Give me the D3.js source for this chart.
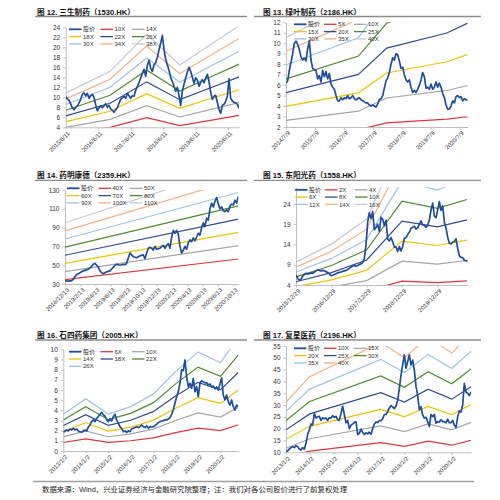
<!DOCTYPE html>
<html><head><meta charset="utf-8">
<script src="https://cdn.jsdelivr.net/npm/d3@7"></script>
<style>
body{margin:0;background:#fff}
svg{display:block}
text{font-family:"Liberation Sans","Noto Sans CJK SC",sans-serif;fill:#333}
</style>
</head><body>
<svg id="c" width="500" height="500"></svg>
<script>
// ---------- Panel 1: 三生制药 ----------
const p1Title = "图 12. 三生制药（1530.HK）";
const p1Legend = ["股价","10X","14X","18X","22X","26X","30X","34X","38X"];
const p1Multiples = [10,14,18,22,26,30,34,38];
const p1EpsDates = ["2015-06-11","2016-10-23","2017-12-08","2018-12-16","2019-12-27","2020-10-15"];
const p1Eps = [0.285,0.40,0.595,0.433,0.55,0.64];
const p1PriceStart = "2015-06-11";
const p1StepDays = 18.75;
const p1Price = [10.1,9.7,9.4,8.7,7.9,7.5,7.9,8.3,8.9,9.6,
10.6,10.9,10.3,10.8,9.8,10.3,10.6,10.0,8.5,7.3,
7.9,8.3,7.9,8.3,8.7,8.0,8.4,7.7,7.4,7.0,
7.5,7.9,8.8,9.6,9.9,10.2,9.8,10.8,10.3,9.8,
10.3,10.2,11.4,12.2,12.9,13.9,14.8,15.6,14.2,16.4,
17.4,15.8,15.2,16.5,16.9,18.0,19.5,20.8,22.4,19.6,
17.6,16.5,15.4,14.0,13.2,12.2,11.2,12.0,10.4,8.4,
11.2,12.6,13.9,15.0,16.0,15.2,14.0,12.8,13.9,13.4,
12.2,13.0,13.5,12.9,13.8,14.6,13.2,11.0,9.6,10.2,
10.4,9.0,7.6,6.8,8.4,8.6,9.2,10.2,13.7,9.8,
9.3,9.0,8.9,8.6,7.8];
const p1YDomain = [4,24];
const p1YTicks = [4,6,8,10,12,14,16,18,20,22,24];
const p1XTicks = ["2015-06-11","2016-06-11","2017-06-11","2018-06-11","2019-06-11","2020-06-11"];
const p1XTickLabels = ["2015/6/11","2016/6/11","2017/6/11","2018/6/11","2019/6/11","2020/6/11"];

// ---------- Panel 2: 绿叶制药 ----------
const p2Title = "图 13. 绿叶制药（2186.HK）";
const p2Legend = ["股价","5X","10X","15X","20X","25X","30X","35X","40X"];
const p2Multiples = [5,10,15,20,25,30,35,40];
const p2EpsDates = ["2014-07-09","2017-01-08","2018-01-01","2020-01-30","2020-10-20"];
const p2Eps = [0.264,0.351,0.477,0.549,0.596];
const p2PriceStart = "2014-07-09";
const p2StepDays = 21.05;
const p2Price = [6.2,6.4,7.4,8.2,9.0,10.0,10.2,9.9,9.4,8.7,
8.4,8.6,8.3,9.5,10.2,8.4,7.6,7.5,7.4,6.6,
6.9,6.3,7.4,6.8,7.3,6.6,7.1,6.1,5.8,5.6,
5.0,4.5,4.5,4.8,4.6,4.8,4.7,5.0,4.7,4.8,
5.0,4.7,4.6,4.7,4.8,4.6,4.5,4.4,4.3,4.3,
4.1,4.0,4.1,4.0,3.9,4.2,4.6,4.7,5.0,5.7,
6.4,6.7,7.2,8.0,8.6,8.4,9.0,8.9,8.3,7.6,
7.7,7.0,6.5,6.3,6.5,5.8,5.3,5.5,5.3,5.6,
6.0,6.5,7.2,6.8,5.7,5.8,5.6,6.1,5.6,5.8,
6.3,5.8,6.2,5.8,5.2,4.8,4.1,3.7,3.7,4.0,
4.5,4.3,4.9,5.0,4.8,4.9,4.5,4.7,4.6,4.6];
const p2YDomain = [2,12];
const p2YTicks = [2,3,4,5,6,7,8,9,10,11,12];
const p2XTicks = ["2014-07-09","2015-07-09","2016-07-09","2017-07-09","2018-07-09","2019-07-09","2020-07-09"];
const p2XTickLabels = ["2014/7/9","2015/7/9","2016/7/9","2017/7/9","2018/7/9","2019/7/9","2020/7/9"];

// ---------- Panel 3: 药明康德 ----------
const p3Title = "图 14. 药明康德（2359.HK）";
const p3Legend = ["股价","40X","50X","60X","70X","80X","90X","100X","110X"];
const p3Multiples = [40,50,60,70,80,90,100,110];
const p3EpsDates = ["2018-12-13","2020-11-02"];
const p3Eps = [0.865,1.415];
const p3PriceStart = "2018-12-13";
const p3StepDays = 6.63;
const p3Price = [33.5,33.2,33.0,33.3,33.6,35.0,38.0,40.0,41.0,42.0,
43.0,44.0,44.5,45.0,46.0,47.0,49.0,51.0,52.0,50.0,
48.0,44.0,42.0,41.0,42.0,43.0,43.5,44.0,46.0,48.0,
50.0,51.0,50.5,50.0,50.5,51.0,50.5,52.0,58.0,63.0,
61.0,59.0,58.5,58.0,59.0,60.0,60.5,61.0,57.0,63.0,
68.0,69.0,68.0,66.0,70.0,67.0,67.5,68.0,70.0,71.0,
68.0,71.0,73.0,68.0,80.0,87.0,84.0,87.0,83.0,70.0,
63.0,66.0,70.0,67.0,74.0,77.0,75.0,79.0,76.0,80.0,
84.0,82.0,90.0,95.0,91.0,100.0,98.0,110.0,116.0,112.0,
118.0,122.0,115.0,110.0,112.0,108.0,107.0,109.0,107.0,113.0,
115.0,114.0,119.0,116.0,123.0];
const p3YDomain = [30,130];
const p3YTicks = [30,50,70,90,110,130];
const p3XTicks = ["2018-12-13","2019-02-13","2019-04-13","2019-06-13","2019-08-13","2019-10-13","2019-12-13","2020-02-13","2020-04-13","2020-06-13","2020-08-13","2020-10-13"];
const p3XTickLabels = ["2018/12/13","2019/2/13","2019/4/13","2019/6/13","2019/8/13","2019/10/13","2019/12/13","2020/2/13","2020/4/13","2020/6/13","2020/8/13","2020/10/13"];

// ---------- Panel 4: 东阳光药 ----------
const p4Title = "图 15. 东阳光药（1558.HK）";
const p4Legend = ["股价","2X","4X","6X","8X","10X","12X","14X","16X"];
const p4Multiples = [2,4,6,8,10,12,14,16];
const p4EpsDates = ["2015-12-29","2016-12-29","2017-12-29","2018-12-29","2019-12-29","2020-10-30"];
const p4Eps = [0.60,0.88,1.27,2.47,2.29,2.51];
const p4PriceStart = "2015-12-29";
const p4StepDays = 17.23;
const p4Price = [6.5,5.6,5.2,5.4,6.2,6.6,6.9,6.7,6.8,7.0,
6.9,7.2,7.5,7.7,7.6,7.5,7.6,7.5,7.3,7.1,
6.8,6.3,6.4,6.6,6.8,7.0,7.1,7.2,7.4,7.5,
7.6,7.8,8.1,8.4,8.7,8.8,8.6,8.8,9.1,9.2,
9.6,10.5,13.9,19.5,21.8,20.4,22.1,17.6,18.2,19.0,
17.2,20.7,20.2,18.6,20.0,15.3,14.9,15.7,14.7,13.3,
13.4,12.3,13.5,12.4,13.5,15.5,15.7,16.5,17.0,18.0,
18.2,18.5,17.8,18.1,19.0,19.8,18.8,18.7,18.2,18.8,
20.0,22.5,24.2,21.0,20.6,22.5,24.6,22.4,23.5,19.5,
18.0,15.8,14.3,14.1,14.6,14.7,15.4,13.0,11.2,10.8,
10.7,10.1,10.0,9.9];
const p4YDomain = [4,28.1];
const p4YTicks = [4,9,14,19,24];
const p4XTicks = ["2015-12-29","2016-12-29","2017-12-29","2018-12-29","2019-12-29"];
const p4XTickLabels = ["2015/12/29","2016/12/29","2017/12/29","2018/12/29","2019/12/29"];

// ---------- Panel 5: 石四药集团 ----------
const p5Title = "图 16. 石四药集团（2005.HK）";
const p5Legend = ["股价","6X","10X","14X","18X","22X","26X"];
const p5Multiples = [6,10,14,18,22,26];
const p5EpsDates = ["2013-01-02","2014-01-02","2015-01-02","2016-01-02","2017-01-02","2018-01-02","2019-01-02","2020-01-02","2020-10-20"];
const p5Eps = [0.139,0.198,0.14,0.168,0.215,0.30,0.375,0.334,0.43];
const p5PriceStart = "2013-01-02";
const p5StepDays = 27.1;
const p5Price = [1.84,1.97,2.07,1.97,2.16,2.07,2.23,2.07,2.16,1.97,
1.9,1.84,1.97,2.07,1.95,2.35,2.56,2.89,3.05,2.89,
3.21,3.38,3.61,3.8,3.55,3.45,3.05,2.89,3.15,2.95,
3.38,3.61,3.05,2.72,2.39,2.23,1.9,1.97,1.84,1.97,
1.9,2.16,2.23,2.3,2.39,2.3,2.39,2.56,2.39,2.3,
2.46,2.23,2.39,2.36,2.39,2.49,2.62,2.79,2.89,2.95,
2.98,3.08,3.05,3.15,3.28,3.61,4.03,4.69,5.34,5.84,
6.66,8.0,7.9,8.95,7.3,6.3,6.66,6.16,7.15,5.84,
6.33,5.34,6.7,6.9,6.8,6.7,6.7,6.5,6.6,6.3,
6.4,6.1,6.3,6.0,6.6,7.2,5.51,5.02,5.51,4.85,
4.52,5.02,4.36,4.03,4.52,4.36];
const p5YDomain = [0,10];
const p5YTicks = [0,1,2,3,4,5,6,7,8,9,10];
const p5XTicks = ["2013-01-02","2014-01-02","2015-01-02","2016-01-02","2017-01-02","2018-01-02","2019-01-02","2020-01-02"];
const p5XTickLabels = ["2013/1/2","2014/1/2","2015/1/2","2016/1/2","2017/1/2","2018/1/2","2019/1/2","2020/1/2"];

// ---------- Panel 6: 复星医药 ----------
const p6Title = "图 17. 复星医药（2196.HK）";
const p6Legend = ["股价","10X","15X","20X","25X","30X","35X","40X"];
const p6Multiples = [10,15,20,25,30,35,40];
const p6EpsDates = ["2013-01-02","2014-01-02","2017-01-02","2018-01-02","2019-01-02","2020-01-02","2020-10-25"];
const p6Eps = [0.78,1.05,1.41,1.25,1.47,1.30,1.51];
const p6PriceStart = "2013-01-02";
const p6StepDays = 25.7;
const p6Price = [10.3,10.6,11.4,12.0,12.4,12.0,12.8,12.4,11.4,11.0,
12.0,11.4,13.8,17.5,19.5,22.0,21.6,26.5,24.5,25.0,
25.2,23.5,24.6,24.2,24.5,23.5,24.6,24.5,25.5,24.8,
25.2,23.8,23.5,26.5,29.5,26.0,22.5,23.5,20.0,21.5,
22.0,22.6,23.0,17.5,18.0,19.8,18.5,17.5,18.3,17.8,
18.5,17.6,20.0,22.0,22.8,22.6,23.4,23.4,24.2,26.0,
26.0,27.2,28.8,29.8,29.2,28.5,29.6,32.0,37.0,42.7,
47.0,51.2,45.6,48.4,51.2,47.0,49.0,44.8,38.0,34.0,
28.0,29.3,25.8,24.5,24.8,23.0,20.9,26.0,25.1,26.0,
22.3,23.0,22.8,23.8,23.0,23.0,22.5,24.0,22.5,22.5,
23.5,21.5,20.5,25.1,27.5,27.0,30.0,39.2,35.5,35.0,
34.0,35.5];
const p6YDomain = [10,55];
const p6YTicks = [10,15,20,25,30,35,40,45,50,55];
const p6XTicks = ["2013-01-02","2014-01-02","2015-01-02","2016-01-02","2017-01-02","2018-01-02","2019-01-02","2020-01-02"];
const p6XTickLabels = ["2013/1/2","2014/1/2","2015/1/2","2016/1/2","2017/1/2","2018/1/2","2019/1/2","2020/1/2"];

const footerText = "数据来源：Wind，兴业证券经济与金融研究院整理；注：我们对各公司股价进行了前复权处理";

// ---------- styling / layout ----------
const priceColor = "#1f4e9c";
const bandColors = ["#e3343c","#a6a6a6","#f2c200","#2f4b92","#4e8b2e","#9dc3e6","#f4b183","#c8c8d6"];

const panels = [
 {title:p1Title, legend:p1Legend, multiples:p1Multiples, epsDates:p1EpsDates, eps:p1Eps, start:p1PriceStart, step:p1StepDays, price:p1Price, yDomain:p1YDomain, yTicks:p1YTicks, xTicks:p1XTicks, xLabels:p1XTickLabels},
 {title:p2Title, legend:p2Legend, multiples:p2Multiples, epsDates:p2EpsDates, eps:p2Eps, start:p2PriceStart, step:p2StepDays, price:p2Price, yDomain:p2YDomain, yTicks:p2YTicks, xTicks:p2XTicks, xLabels:p2XTickLabels},
 {title:p3Title, legend:p3Legend, multiples:p3Multiples, epsDates:p3EpsDates, eps:p3Eps, start:p3PriceStart, step:p3StepDays, price:p3Price, yDomain:p3YDomain, yTicks:p3YTicks, xTicks:p3XTicks, xLabels:p3XTickLabels},
 {title:p4Title, legend:p4Legend, multiples:p4Multiples, epsDates:p4EpsDates, eps:p4Eps, start:p4PriceStart, step:p4StepDays, price:p4Price, yDomain:p4YDomain, yTicks:p4YTicks, xTicks:p4XTicks, xLabels:p4XTickLabels},
 {title:p5Title, legend:p5Legend, multiples:p5Multiples, epsDates:p5EpsDates, eps:p5Eps, start:p5PriceStart, step:p5StepDays, price:p5Price, yDomain:p5YDomain, yTicks:p5YTicks, xTicks:p5XTicks, xLabels:p5XTickLabels},
 {title:p6Title, legend:p6Legend, multiples:p6Multiples, epsDates:p6EpsDates, eps:p6Eps, start:p6PriceStart, step:p6StepDays, price:p6Price, yDomain:p6YDomain, yTicks:p6YTicks, xTicks:p6XTicks, xLabels:p6XTickLabels}
];

const layout = [
 {tx:37, ty:14.5, u0:35, u1:247, uy:16.5, x0:65.7, x1:239, y0:27.3, y1:127.3, lx:69, ly:29.3, cw:31.5},
 {tx:263, ty:14.5, u0:254, u1:481, uy:16.5, x0:286, x1:467.7, y0:22.3, y1:127, lx:294, ly:24.3, cw:30},
 {tx:37, ty:178.3, u0:35, u1:247, uy:180.3, x0:65, x1:238.3, y0:190, y1:284, lx:67, ly:188.3, cw:31.5},
 {tx:263, ty:178.3, u0:254, u1:481, uy:180.3, x0:296, x1:467.7, y0:187.3, y1:285, lx:295, ly:189.8, cw:30},
 {tx:37, ty:337.5, u0:35, u1:247, uy:340, x0:63.3, x1:238.3, y0:349.3, y1:451, lx:69, ly:351.7, cw:31.5},
 {tx:263, ty:337.5, u0:254, u1:481, uy:340, x0:286, x1:471, y0:346, y1:452.3, lx:294, ly:348.3, cw:30}
];

const svg = d3.select("#c");
const parse = d3.timeParse("%Y-%m-%d");
const DAY = 864e5;
const defs = svg.append("defs");

panels.forEach((p, i) => {
  const L = layout[i];
  const g = svg.append("g");
  const s0 = parse(p.start);
  const pts = p.price.map((v, k) => ({d: new Date(s0.getTime() + k * p.step * DAY), v}));
  const x = d3.scaleTime().domain([s0, pts[pts.length - 1].d]).range([L.x0, L.x1]);
  const y = d3.scaleLinear().domain(p.yDomain).range([L.y1, L.y0]);

  // title + underline
  g.append("text").attr("x", L.tx).attr("y", L.ty).attr("font-size", 7.6).attr("font-weight", "bold")
    .style("fill", "#111").text(p.title);
  g.append("line").attr("x1", L.u0).attr("x2", L.u1).attr("y1", L.uy).attr("y2", L.uy)
    .attr("stroke", "#8c8c8c").attr("stroke-width", 1.3);

  defs.append("clipPath").attr("id", "cp" + i).append("rect")
    .attr("x", L.x0).attr("y", L.y0).attr("width", L.x1 - L.x0).attr("height", L.y1 - L.y0);

  // axes
  const yAxis = d3.axisLeft(y).tickValues(p.yTicks).tickSize(2.5).tickSizeOuter(0).tickPadding(3);
  const ya = g.append("g").attr("transform", `translate(${L.x0},0)`).call(yAxis);
  ya.select(".domain").attr("stroke", "#bfbfbf");
  ya.selectAll(".tick line").attr("stroke", "#bfbfbf");
  ya.selectAll(".tick text").attr("font-size", 6.5).style("fill", "#333")
    .attr("font-family", "Liberation Sans, sans-serif");

  const xAxis = d3.axisBottom(x).tickValues(p.xTicks.map(parse)).tickFormat((d, k) => p.xLabels[k])
    .tickSize(2.5).tickSizeOuter(0);
  const xa = g.append("g").attr("transform", `translate(0,${L.y1})`).call(xAxis);
  xa.select(".domain").attr("stroke", "#bfbfbf");
  xa.selectAll(".tick line").attr("stroke", "#bfbfbf");
  xa.selectAll(".tick text").attr("font-size", 6).style("fill", "#333")
    .attr("font-family", "Liberation Sans, sans-serif")
    .attr("x", 0).attr("y", 0).attr("dy", "0.35em")
    .attr("transform", "translate(2.5,5) rotate(-45)")
    .style("text-anchor", "end");

  // PE bands
  const epsPts = p.epsDates.map((d, k) => ({d: parse(d), e: p.eps[k]}));
  const bands = g.append("g").attr("clip-path", `url(#cp${i})`);
  p.multiples.forEach((m, j) => {
    const line = d3.line().x(q => x(q.d)).y(q => y(q.e * m));
    bands.append("path").attr("d", line(epsPts)).attr("fill", "none")
      .attr("stroke", bandColors[j]).attr("stroke-width", 1.2);
  });

  // price
  const pl = d3.line().x(q => x(q.d)).y(q => y(q.v));
  bands.append("path").attr("d", pl(pts)).attr("fill", "none")
    .attr("stroke", priceColor).attr("stroke-width", 1.7).attr("stroke-linejoin", "round");

  // legend
  const lg = g.append("g");
  p.legend.forEach((name, k) => {
    const col = k % 3, row = Math.floor(k / 3);
    const lx = L.lx + col * L.cw, ly = L.ly + row * 7.3;
    lg.append("line").attr("x1", lx).attr("x2", lx + 12.5).attr("y1", ly).attr("y2", ly)
      .attr("stroke", k === 0 ? priceColor : bandColors[k - 1]).attr("stroke-width", k === 0 ? 1.8 : 1.3);
    lg.append("text").attr("x", lx + 14).attr("y", ly).attr("dy", "0.35em").attr("font-size", 6)
      .style("fill", "#333").text(name);
  });
});

// footer
svg.append("line").attr("x1", 33).attr("x2", 474).attr("y1", 481.5).attr("y2", 481.5)
  .attr("stroke", "#a0a0a0").attr("stroke-width", 1.3);
svg.append("text").attr("x", 42).attr("y", 489).attr("dy", "0.35em").attr("font-size", 7.4)
  .style("fill", "#222").text(footerText);
</script>
</body></html>
